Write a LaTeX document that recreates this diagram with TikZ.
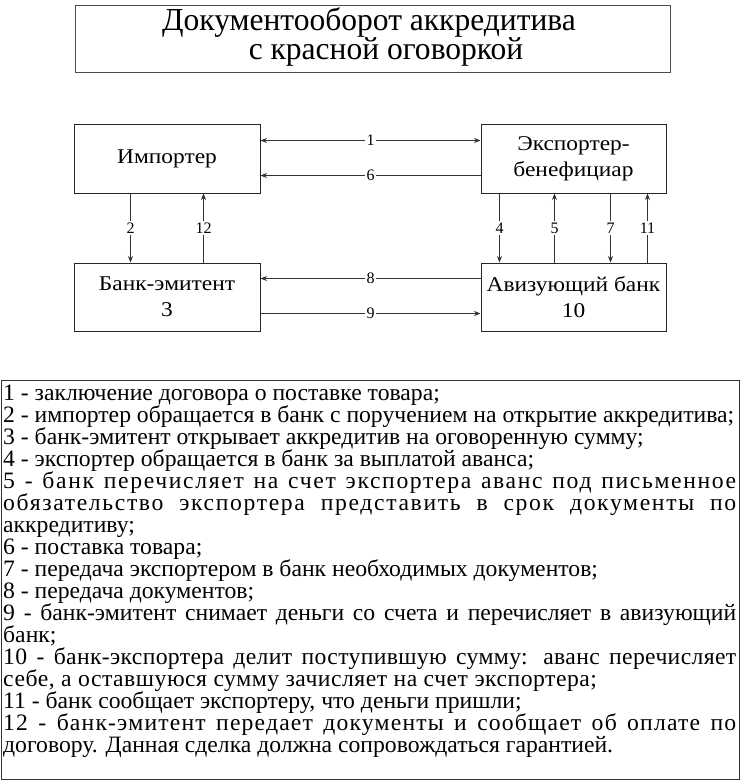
\documentclass[tikz,border=0pt]{standalone}
\usepackage{fontspec}
\setmainfont{Liberation Serif}
\newfontfamily\titlefont[FakeStretch=0.985]{Liberation Serif}
\newfontfamily\boxfont[FakeStretch=1.115]{Liberation Serif}
\newfontfamily\legfont[FakeStretch=1.007]{Liberation Serif}
\newfontfamily\legfontA[FakeStretch=1.007,LetterSpace=2.2]{Liberation Serif}
\newfontfamily\legfontB[FakeStretch=1.007,LetterSpace=7]{Liberation Serif}
\newfontfamily\legfontC[FakeStretch=1.007,LetterSpace=5]{Liberation Serif}
\newfontfamily\legfontD[FakeStretch=1.007,LetterSpace=1.5]{Liberation Serif}
\usetikzlibrary{arrows.meta}
\newcommand{\jline}[1]{\hbox to 733pt{\spaceskip=0.22em plus 1fil\relax #1}}
\begin{document}
\begin{tikzpicture}[x=1pt,y=-1pt,
  box/.style={draw=black!85,line width=1pt,inner sep=0pt,align=center,font=\boxfont\fontsize{21}{26}\selectfont},
  arr/.style={draw=black!80,line width=0.9pt,-{Stealth[length=6.5pt,width=5pt]}},
  num/.style={fill=white,inner sep=1.5pt,font=\fontsize{16}{18}\selectfont},
  leg/.style={anchor=base west,inner sep=0pt,font=\legfont\fontsize{23.5}{22}\selectfont}]
\useasboundingbox (0,0) rectangle (741,782);
% title
\node[draw=black!70,line width=1pt,minimum width=595pt,minimum height=67pt,inner sep=0pt] (title) at (372.5,38.5) {};
\node[inner sep=0pt,align=center,font=\titlefont\fontsize{32}{26.3}\selectfont] (ttext) at (369,37) {Документооборот аккредитива\\\hspace*{34pt}с красной оговоркой};
% boxes
\node[box,minimum width=186pt,minimum height=69pt] (imp) at (167,158.5) {Импортер};
\node[box,minimum width=185pt,minimum height=69pt] (exp) at (573.5,158.5) {Экспортер-\\бенефициар};
\node[box,minimum width=186pt,minimum height=68pt] (emit) at (167,297) {Банк-эмитент\\3};
\node[box,minimum width=185pt,minimum height=68pt] (aviz) at (573.5,297) {Авизующий банк\\10};
% horizontal connectors
\draw[arr,{Stealth[length=6.5pt,width=5pt]}-{Stealth[length=6.5pt,width=5pt]}] ([yshift=-17pt]imp.north east) -- node[num]{1} ([yshift=-17pt]exp.north west);
\draw[arr] ([yshift=-52pt]exp.north west) -- node[num]{6} ([yshift=-52pt]imp.north east);
\draw[arr] ([yshift=-16pt]aviz.north west) -- node[num]{8} ([yshift=-16pt]emit.north east);
\draw[arr] ([yshift=-51pt]emit.north east) -- node[num]{9} ([yshift=-51pt]aviz.north west);
% vertical connectors
\draw[arr] ([xshift=57pt]imp.south west) -- node[num]{2} ([xshift=57pt]emit.north west);
\draw[arr] ([xshift=130pt]emit.north west) -- node[num]{12} ([xshift=130pt]imp.south west);
\draw[arr] ([xshift=19pt]exp.south west) -- node[num]{4} ([xshift=19pt]aviz.north west);
\draw[arr] ([xshift=74pt]aviz.north west) -- node[num]{5} ([xshift=74pt]exp.south west);
\draw[arr] ([xshift=130pt]exp.south west) -- node[num]{7} ([xshift=130pt]aviz.north west);
\draw[arr] ([xshift=167pt]aviz.north west) -- node[num]{11} ([xshift=167pt]exp.south west);
% legend
\node[draw=black!80,line width=1pt,minimum width=738pt,minimum height=399pt,anchor=north west,inner sep=0pt] (legendbox) at (1,380) {};
\node[leg] (l1) at (3,400) {1 - заключение договора о поставке товара;};
\node[leg] (l2) at (3,422.06) {2 - импортер обращается в банк с поручением на открытие аккредитива;};
\node[leg] (l3) at (3,444.12) {3 - банк-эмитент открывает аккредитив на оговоренную сумму;};
\node[leg] (l4) at (3,466.18) {4 - экспортер обращается в банк за выплатой аванса;};
\node[leg] (l5) at (3,488.24) {\legfontB\jline{5 - банк перечисляет на счет экспортера аванс под письменное}};
\node[leg] (l6) at (3,510.3) {\legfontB\jline{обязательство экспортера представить в срок документы по}};
\node[leg] (l7) at (3,532.36) {аккредитиву;};
\node[leg] (l8) at (3,554.42) {6 - поставка товара;};
\node[leg] (l9) at (3,576.48) {7 - передача экспортером в банк необходимых документов;};
\node[leg] (l10) at (3,598.54) {8 - передача документов;};
\node[leg] (l11) at (3,620.6) {\jline{9 - банк-эмитент снимает деньги со счета и перечисляет в авизующий}};
\node[leg] (l12) at (3,642.66) {банк;};
\node[leg] (l13) at (3,664.72) {\legfontD\jline{10 - банк-экспортера делит поступившую сумму: аванс перечисляет}};
\node[leg] (l14) at (3,686.78) {\legfontA себе, а оставшуюся сумму зачисляет на счет экспортера;};
\node[leg] (l15) at (3,708.84) {11 - банк сообщает экспортеру, что деньги пришли;};
\node[leg] (l16) at (3,730.9) {\legfontC\jline{12 - банк-эмитент передает документы и сообщает об оплате по}};
\node[leg] (l17) at (3,752.96) {договору. Данная сделка должна сопровождаться гарантией.};
\end{tikzpicture}
\end{document}
